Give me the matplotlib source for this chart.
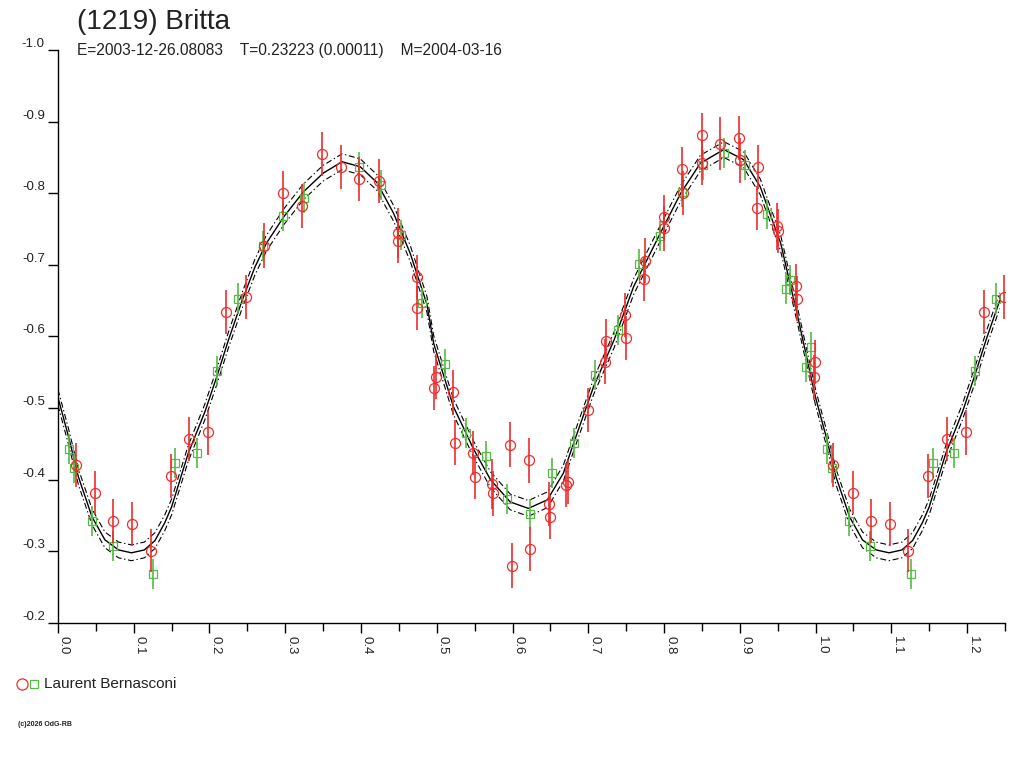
import numpy as np
import matplotlib
matplotlib.use("Agg")
import matplotlib.pyplot as plt
from matplotlib.ticker import MultipleLocator

plt.rcParams.update({"font.family": ["Liberation Sans", "DejaVu Sans"]})

# fitted light curve (phase, mag), one cycle
fit_phase = [0.000, 0.014, 0.027, 0.045, 0.062, 0.080, 0.097, 0.114, 0.128, 0.141,
             0.150, 0.172, 0.194, 0.210, 0.225, 0.243, 0.260, 0.275, 0.298, 0.324,
             0.350, 0.375, 0.399, 0.421, 0.443, 0.465, 0.487, 0.496, 0.522, 0.549,
             0.571, 0.597, 0.621, 0.646, 0.667, 0.681, 0.707, 0.734, 0.760, 0.795,
             0.822, 0.848, 0.879, 0.905, 0.927, 0.954, 0.976, 1.000]
fit_mag = [-0.515, -0.460, -0.404, -0.348, -0.316, -0.302, -0.298, -0.302, -0.315, -0.340,
           -0.362, -0.437, -0.495, -0.545, -0.595, -0.650, -0.697, -0.730, -0.767, -0.802,
           -0.828, -0.844, -0.837, -0.815, -0.772, -0.716, -0.645, -0.590, -0.502, -0.442,
           -0.400, -0.369, -0.360, -0.372, -0.409, -0.452, -0.530, -0.595, -0.670, -0.744,
           -0.800, -0.842, -0.861, -0.847, -0.809, -0.730, -0.630, -0.515]
fit_err = 0.011

# red circles
red_phase = [0.0233, 0.0489, 0.0731, 0.0982, 0.1224, 0.1488, 0.1735, 0.1980, 0.2224, 0.2488,
             0.2720, 0.2977, 0.3220, 0.3483, 0.3734, 0.3980, 0.4232, 0.4487, 0.4495, 0.4738,
             0.4738, 0.4993, 0.4967, 0.5214, 0.5240, 0.5478, 0.5500, 0.5730, 0.5742, 0.5970,
             0.5993, 0.6213, 0.6235, 0.6477, 0.6490, 0.6733, 0.6710, 0.6993, 0.7226, 0.7235,
             0.7490, 0.7500, 0.7750, 0.7740, 0.7996, 0.8005, 0.8243, 0.8250, 0.8503, 0.8500,
             0.8736, 0.8987, 0.9000, 0.9238, 0.9230, 0.9494, 0.9500, 0.9740, 0.9750, 0.9995,
             0.9978]
red_mag = [-0.421, -0.382, -0.342, -0.338, -0.301, -0.405, -0.457, -0.466, -0.634, -0.655,
           -0.727, -0.800, -0.782, -0.855, -0.837, -0.820, -0.817, -0.744, -0.734, -0.683,
           -0.640, -0.544, -0.528, -0.522, -0.452, -0.437, -0.404, -0.394, -0.381, -0.449,
           -0.280, -0.427, -0.303, -0.366, -0.348, -0.397, -0.393, -0.497, -0.565, -0.594,
           -0.630, -0.598, -0.706, -0.680, -0.767, -0.751, -0.834, -0.800, -0.881, -0.842,
           -0.869, -0.877, -0.846, -0.837, -0.779, -0.754, -0.747, -0.670, -0.653, -0.564,
           -0.543]
red_err = [0.031, 0.030, 0.031, 0.031, 0.030, 0.031, 0.031, 0.031, 0.031, 0.031,
           0.031, 0.031, 0.031, 0.031, 0.031, 0.031, 0.031, 0.035, 0.031, 0.031,
           0.031, 0.031, 0.031, 0.031, 0.031, 0.031, 0.031, 0.035, 0.031, 0.031,
           0.031, 0.031, 0.031, 0.031, 0.031, 0.031, 0.031, 0.031, 0.031, 0.031,
           0.031, 0.031, 0.031, 0.031, 0.031, 0.031, 0.031, 0.031, 0.031, 0.031,
           0.037, 0.031, 0.031, 0.031, 0.031, 0.033, 0.031, 0.031, 0.031, 0.031,
           0.031]

# green squares
green_phase = [0.0145, 0.0216, 0.0445, 0.0722, 0.1260, 0.1546, 0.1830, 0.2105, 0.2378, 0.2700,
               0.2977, 0.3254, 0.3976, 0.4258, 0.4531, 0.4800, 0.5103, 0.5380, 0.5654, 0.5931,
               0.6235, 0.6517, 0.6810, 0.7094, 0.7389, 0.7675, 0.7952, 0.8234, 0.8516, 0.8798,
               0.9075, 0.9362, 0.9660, 0.9604, 0.9943, 0.9880]
green_mag = [-0.443, -0.416, -0.343, -0.308, -0.269, -0.424, -0.437, -0.552, -0.653, -0.726,
             -0.768, -0.793, -0.836, -0.811, -0.742, -0.647, -0.562, -0.465, -0.433, -0.373,
             -0.352, -0.409, -0.451, -0.546, -0.609, -0.701, -0.740, -0.802, -0.840, -0.856,
             -0.840, -0.771, -0.679, -0.667, -0.585, -0.558]
green_err = 0.021

phase_max = 1.25


def extend(phase, values):
    # repeat the start of the cycle after phase 1
    phase = np.asarray(phase)
    values = np.asarray(values)
    keep = phase + 1 <= phase_max
    return np.concatenate([phase, phase[keep] + 1]), np.concatenate([values, values[keep]])


fx, fy = extend(fit_phase[:-1], fit_mag[:-1])
fx = np.append(fx, 1.0)
fy = np.append(fy, fit_mag[-1])
order = np.argsort(fx)
fx, fy = fx[order], fy[order]

rx, ry = extend(red_phase, red_mag)
_, rerr = extend(red_phase, red_err)
gx, gy = extend(green_phase, green_mag)
gerr = np.full(len(gx), green_err)

red = "#ee2c2c"
green = "#55bb44"
dashdot = (0, (5.4, 2.4, 1.2, 2.4))

fig = plt.figure(figsize=(10.24, 7.68), dpi=100)
ax = fig.add_axes([0.0566, 0.1888, 0.9248, 0.7461])

ax.plot(fx, fy, "-", color="black", lw=1.0, zorder=3)
ax.plot(fx, fy - fit_err, color="black", lw=0.8, ls=dashdot, zorder=3)
ax.plot(fx, fy + fit_err, color="black", lw=0.8, ls=dashdot, zorder=3)

ax.errorbar(gx, gy, yerr=gerr, fmt="s", ms=5.5, mfc="none", mec=green, mew=0.9,
            ecolor=green, elinewidth=1.2, capsize=0, zorder=4)
ax.errorbar(rx, ry, yerr=rerr, fmt="o", ms=7.2, mfc="none", mec=red, mew=0.9,
            ecolor=red, elinewidth=1.2, capsize=0, zorder=5)

ax.set_xlim(0, phase_max)
ax.set_ylim(-0.2, -1.0)
ax.spines["top"].set_visible(False)
ax.spines["right"].set_visible(False)
ax.spines["left"].set_linewidth(1.0)
ax.spines["bottom"].set_linewidth(1.0)

ax.xaxis.set_major_locator(MultipleLocator(0.1))
ax.xaxis.set_minor_locator(MultipleLocator(0.05))
ax.yaxis.set_major_locator(MultipleLocator(0.1))
ax.tick_params(axis="x", which="major", direction="out", length=7.5, width=1, pad=2,
               labelsize=9.5, labelcolor="#222222")
ax.tick_params(axis="x", which="minor", direction="out", length=6, width=1)
ax.tick_params(axis="y", direction="out", length=7.5, width=1, pad=2,
               labelsize=9.5, labelcolor="#222222")
ax.set_xticks(np.arange(0, 1.21, 0.1))
ax.set_xticklabels([f"{t:.1f}" for t in np.arange(0, 1.21, 0.1)], rotation=-90,
                   ha="left", va="top")
ax.set_yticks(np.arange(-1.0, -0.19, 0.1))
ax.set_yticklabels([f"{t:.1f}" for t in np.arange(-1.0, -0.19, 0.1)], va="bottom")

fig.text(0.075, 0.955, "(1219) Britta", fontsize=20, color="#222222", va="bottom")
fig.text(0.075, 0.925, "E=2003-12-26.08083    T=0.23223 (0.00011)    M=2004-03-16",
         fontsize=11.2, color="#222222", va="bottom")

# legend below the plot
fig.lines.append(plt.Line2D([0.0215], [0.110], marker="o", ms=8, mfc="none", mec=red,
                            mew=0.9, transform=fig.transFigure))
fig.lines.append(plt.Line2D([0.033], [0.110], marker="s", ms=5.5, mfc="none", mec=green,
                            mew=0.9, transform=fig.transFigure))
fig.text(0.043, 0.110, "Laurent Bernasconi", fontsize=11, color="#222222", va="center")
fig.text(0.018, 0.056, "(c)2026 OdG-RB", fontsize=5, color="#222222", va="center",
         fontweight="bold")

fig.savefig("out.png", dpi=100)
